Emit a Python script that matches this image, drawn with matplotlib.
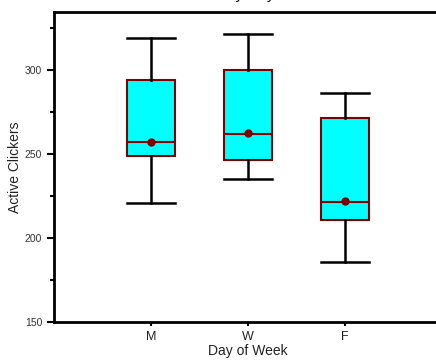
import matplotlib
matplotlib.use("Agg")
import matplotlib.pyplot as plt

# box stats
days = ["M", "W", "F"]
whislo = [221, 235, 186]
q1 = [249, 246.5, 211]
med = [257, 262, 221.5]
q3 = [294, 300, 271.5]
whishi = [319, 321.5, 286]
means = [257, 262.7, 222.2]

plt.rcParams['font.family'] = ['Liberation Sans', 'DejaVu Sans']

fig = plt.figure(figsize=(4.36, 3.61), dpi=100)
ax = fig.add_axes([54/436, 39/361, 388/436, 310/361])

stats = []
for i in range(len(days)):
    stats.append(dict(label=days[i], whislo=whislo[i], q1=q1[i], med=med[i],
                      q3=q3[i], whishi=whishi[i], mean=means[i], fliers=[]))

ax.bxp(stats, positions=[1, 2, 3], widths=0.49, showmeans=True, patch_artist=True,
       boxprops=dict(facecolor="#00ffff", edgecolor="#800000", linewidth=1.5),
       medianprops=dict(color="#800000", linewidth=1.5),
       meanprops=dict(marker="o", markerfacecolor="#800000", markeredgecolor="#800000", markersize=5),
       whiskerprops=dict(color="black", linewidth=1.8),
       capprops=dict(color="black", linewidth=1.8),
       capwidths=0.5)

ax.set_xlim(0, 4)
ax.set_ylim(150, 334.5)
ax.set_yticks([150, 200, 250, 300])
ax.set_yticks([175, 225, 275, 325], minor=True)
ax.tick_params(axis="y", which="major", length=5, width=1.5, labelsize=7.5,
               labelcolor="#333333", direction="out")
ax.tick_params(axis="y", which="minor", length=3, width=1.5, direction="out")
ax.tick_params(axis="x", length=3, width=1.5, labelsize=9, labelcolor="#222222")

for s in ["left", "bottom", "top", "right"]:
    ax.spines[s].set_linewidth(2)

ax.set_xlabel("Day of Week", fontsize=10, labelpad=1, color="#222222")
ax.set_ylabel("Active Clickers", fontsize=10, labelpad=2, color="#222222")

fig.text(0.525, 1.0 + 1/361, "Active Clickers by Day of Week", fontsize=11,
         ha="center", va="baseline")

fig.savefig("out.png", dpi=100)
